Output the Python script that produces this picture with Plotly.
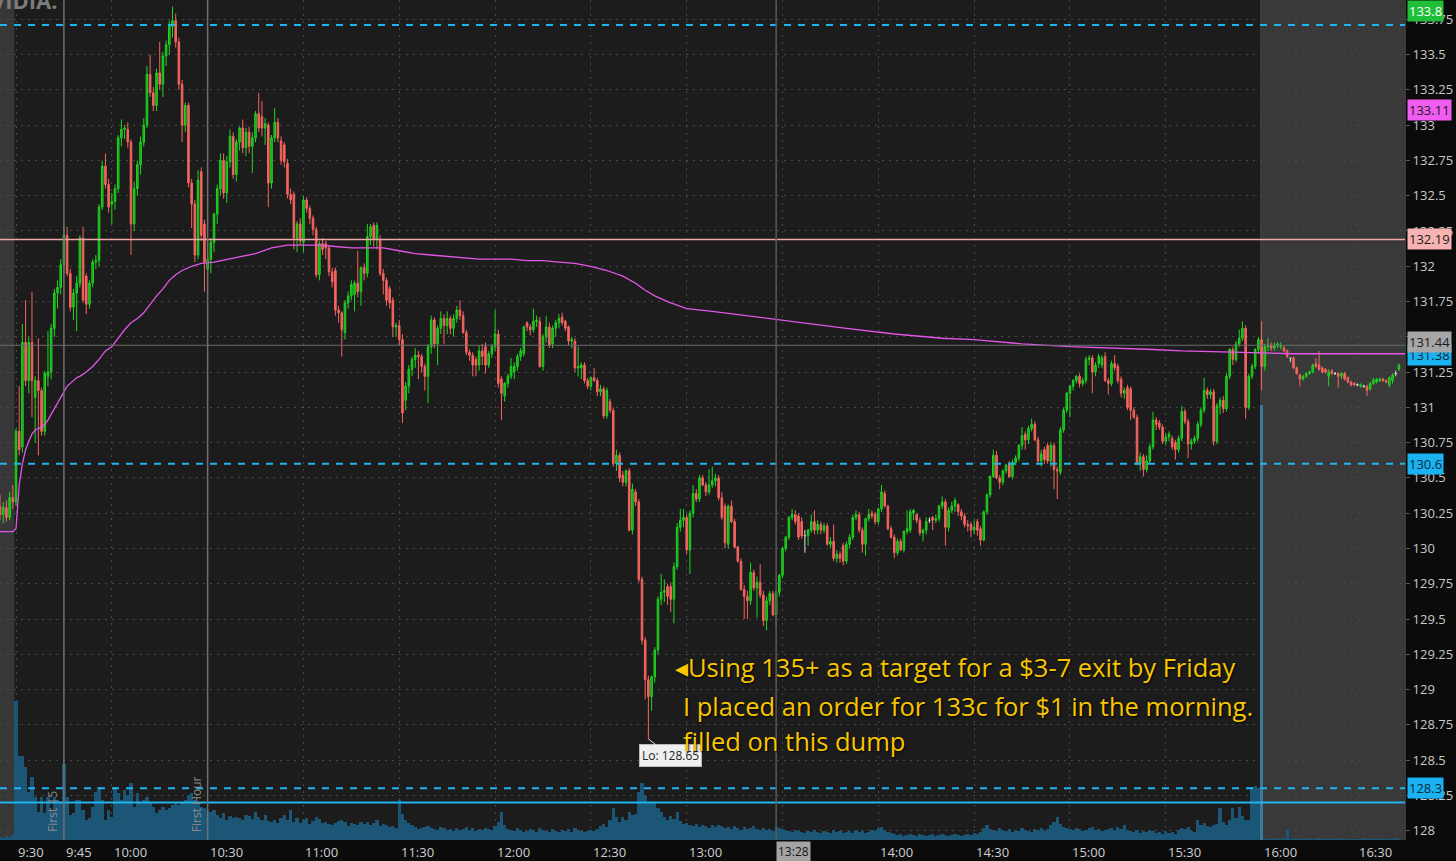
import plotly.graph_objects as go

# ---------------- data (1-minute bars, minute 0 = 9:30) ----------------
first_minute = -5  # 9:25 pre-market

opens = [
    130.30, 130.24, 130.29, 130.22, 130.36,
    130.33, 130.83, 130.72, 131.46, 131.19, 131.46, 131.07, 131.19, 131.12, 130.83,
    131.22, 131.25, 131.56, 131.81, 131.85, 132.01, 132.22, 131.95, 131.71, 131.81,
    131.88, 132.20, 131.93, 131.73, 131.88, 132.03, 132.04, 132.42, 132.71, 132.58,
    132.44, 132.46, 132.55, 132.91, 132.97, 132.97, 132.88, 132.30, 132.55, 132.72,
    132.88, 133.00, 133.36, 133.23, 133.14, 133.37, 133.29, 133.49, 133.57, 133.70,
    133.74, 133.59, 133.29, 133.00, 133.14, 132.59, 132.44, 132.08, 132.67, 132.30,
    131.98, 132.05, 132.17, 132.37, 132.55, 132.75, 132.52, 132.74, 132.92, 132.65,
    132.88, 132.98, 132.84, 132.95, 132.85, 132.91, 133.08, 133.06, 132.98, 133.00,
    132.59, 132.91, 133.02, 132.89, 132.86, 132.73, 132.51, 132.51, 132.20, 132.30,
    132.17, 132.47, 132.41, 132.34, 132.26, 131.94, 132.16, 132.16, 132.13, 131.96,
    131.97, 131.69, 131.67, 131.53, 131.74, 131.79, 131.80, 131.88, 131.82, 131.99,
    131.95, 132.21, 132.29, 132.19, 132.19, 131.95, 131.90, 131.84, 131.76, 131.57,
    131.58, 131.48, 131.05, 131.15, 131.27, 131.34, 131.37, 131.36, 131.29, 131.22,
    131.43, 131.62, 131.45, 131.56, 131.63, 131.58, 131.63, 131.56, 131.63, 131.69,
    131.65, 131.53, 131.39, 131.37, 131.34, 131.30, 131.40, 131.43, 131.30, 131.38,
    131.43, 131.52, 131.20, 131.08, 131.17, 131.22, 131.25, 131.29, 131.36, 131.38,
    131.60, 131.57, 131.55, 131.61, 131.61, 131.29, 131.50, 131.57, 131.45, 131.56,
    131.60, 131.64, 131.61, 131.57, 131.47, 131.47, 131.28, 131.28, 131.30, 131.19,
    131.15, 131.21, 131.19, 131.11, 131.13, 130.94, 131.04, 130.98, 130.60, 130.66,
    130.52, 130.47, 130.55, 130.13, 130.40, 130.33, 129.78, 129.35, 129.07, 128.95,
    129.09, 129.28, 129.64, 129.69, 129.73, 129.73, 129.64, 129.87, 130.15, 130.20,
    130.22, 129.99, 130.25, 130.39, 130.35, 130.50, 130.45, 130.40, 130.45, 130.48,
    130.50, 130.36, 130.30, 130.03, 130.30, 130.19, 130.01, 129.91, 129.71, 129.66,
    129.63, 129.83, 129.72, 129.76, 129.67, 129.49, 129.63, 129.68, 129.53, 129.69,
    129.81, 130.00, 130.08, 130.22, 130.24, 130.23, 130.19, 130.09, 130.09, 130.13,
    130.19, 130.13, 130.17, 130.13, 130.16, 130.03, 130.05, 129.93, 129.96, 130.02,
    129.91, 130.03, 130.08, 130.22, 130.24, 130.13, 130.03, 130.21, 130.25, 130.24,
    130.19, 130.28, 130.39, 130.30, 130.14, 130.08, 129.97, 130.05, 129.99, 130.12,
    130.13, 130.25, 130.24, 130.20, 130.11, 130.13, 130.20, 130.22, 130.20, 130.21,
    130.30, 130.33, 130.15, 130.27, 130.30, 130.31, 130.26, 130.23, 130.17, 130.17,
    130.13, 130.19, 130.14, 130.06, 130.26, 130.38, 130.51, 130.66, 130.50, 130.47,
    130.55, 130.60, 130.51, 130.61, 130.64, 130.73, 130.81, 130.77, 130.85, 130.88,
    130.77, 130.62, 130.70, 130.73, 130.62, 130.73, 130.56, 130.54, 130.84, 130.98,
    131.10, 131.15, 131.19, 131.22, 131.17, 131.19, 131.34, 131.35, 131.25, 131.31,
    131.30, 131.36, 131.19, 131.17, 131.31, 131.29, 131.20, 131.10, 131.14, 131.13,
    130.98, 130.93, 130.60, 130.65, 130.56, 130.62, 130.72, 130.91, 130.89, 130.86,
    130.76, 130.79, 130.78, 130.75, 130.70, 130.78, 130.97, 130.90, 130.74, 130.76,
    130.78, 130.88, 130.98, 131.12, 131.09, 131.11, 130.76, 131.01, 131.05, 130.99,
    131.22, 131.41, 131.34, 131.45, 131.49, 131.56, 131.00, 131.22, 131.29, 131.41,
    131.48, 131.29, 131.43, 131.44, 131.42, 131.44, 131.43, 131.42, 131.40, 131.35,
    131.35, 131.28, 131.23, 131.20, 131.22, 131.24, 131.25, 131.31, 131.30, 131.28,
    131.27, 131.22, 131.26, 131.24, 131.24, 131.22, 131.24, 131.21, 131.18, 131.17,
    131.16, 131.15, 131.15, 131.15, 131.13, 131.17, 131.18, 131.19, 131.20, 131.19,
    131.16, 131.19, 131.24, 131.27,
]

highs = [
    130.38, 130.33, 130.34, 130.40, 130.45,
    130.85, 131.15, 131.59, 131.76, 131.50, 131.82, 131.22, 131.49, 131.14, 131.26,
    131.54, 131.59, 131.84, 131.90, 132.05, 132.28, 132.28, 131.98, 131.84, 131.93,
    132.22, 132.28, 131.95, 131.90, 132.05, 132.08, 132.44, 132.75, 132.80, 132.62,
    132.52, 132.58, 132.93, 133.04, 133.00, 133.02, 132.90, 132.60, 132.75, 132.92,
    133.05, 133.42, 133.50, 133.27, 133.40, 133.59, 133.52, 133.60, 133.74, 133.84,
    133.79, 133.62, 133.32, 133.16, 133.16, 132.62, 132.47, 132.68, 132.70, 132.33,
    132.10, 132.20, 132.38, 132.58, 132.80, 132.80, 132.78, 132.97, 132.95, 132.90,
    132.99, 133.04, 132.98, 132.99, 132.95, 133.10, 133.23, 133.17, 133.05, 133.02,
    132.93, 133.12, 133.05, 132.92, 132.88, 132.76, 132.55, 132.53, 132.32, 132.34,
    132.50, 132.49, 132.43, 132.36, 132.28, 132.18, 132.20, 132.18, 132.15, 131.99,
    131.99, 131.72, 131.68, 131.76, 131.82, 131.90, 131.90, 132.11, 132.00, 132.02,
    132.30, 132.30, 132.31, 132.31, 132.22, 131.98, 131.92, 131.86, 131.78, 131.60,
    131.62, 131.52, 131.18, 131.30, 131.36, 131.42, 131.40, 131.38, 131.31, 131.45,
    131.65, 131.64, 131.58, 131.68, 131.66, 131.68, 131.65, 131.66, 131.72, 131.76,
    131.68, 131.55, 131.41, 131.39, 131.36, 131.44, 131.45, 131.46, 131.40, 131.45,
    131.69, 131.55, 131.22, 131.18, 131.24, 131.35, 131.32, 131.38, 131.42, 131.58,
    131.61, 131.59, 131.70, 131.65, 131.64, 131.52, 131.65, 131.60, 131.58, 131.62,
    131.66, 131.67, 131.62, 131.58, 131.50, 131.49, 131.43, 131.32, 131.32, 131.21,
    131.22, 131.28, 131.21, 131.16, 131.15, 131.14, 131.06, 131.00, 130.70, 130.68,
    130.55, 130.56, 130.57, 130.46, 130.42, 130.35, 129.80, 129.37, 129.10, 129.10,
    129.30, 129.66, 129.82, 129.78, 129.75, 129.76, 129.90, 130.18, 130.28, 130.28,
    130.24, 130.27, 130.45, 130.42, 130.52, 130.52, 130.47, 130.56, 130.58, 130.53,
    130.52, 130.40, 130.32, 130.31, 130.34, 130.21, 130.02, 129.93, 129.74, 129.70,
    129.90, 129.85, 129.80, 129.89, 129.70, 129.66, 129.70, 129.70, 129.71, 129.82,
    130.01, 130.09, 130.23, 130.28, 130.27, 130.25, 130.22, 130.13, 130.14, 130.24,
    130.27, 130.20, 130.19, 130.18, 130.18, 130.08, 130.17, 129.99, 129.98, 130.04,
    130.05, 130.10, 130.24, 130.27, 130.26, 130.15, 130.22, 130.28, 130.27, 130.26,
    130.29, 130.45, 130.41, 130.31, 130.16, 130.10, 130.07, 130.07, 130.13, 130.27,
    130.28, 130.28, 130.25, 130.22, 130.14, 130.22, 130.22, 130.23, 130.24, 130.31,
    130.37, 130.35, 130.29, 130.33, 130.36, 130.32, 130.28, 130.25, 130.20, 130.19,
    130.20, 130.21, 130.16, 130.27, 130.39, 130.52, 130.70, 130.69, 130.52, 130.56,
    130.60, 130.62, 130.63, 130.66, 130.74, 130.86, 130.83, 130.87, 130.92, 130.90,
    130.79, 130.70, 130.72, 130.75, 130.75, 130.75, 130.58, 130.86, 131.00, 131.11,
    131.16, 131.20, 131.23, 131.24, 131.21, 131.36, 131.37, 131.37, 131.32, 131.38,
    131.37, 131.39, 131.21, 131.33, 131.37, 131.31, 131.22, 131.14, 131.16, 131.15,
    131.00, 130.95, 130.68, 130.67, 130.66, 130.74, 130.97, 130.93, 130.91, 130.88,
    130.82, 130.83, 130.80, 130.77, 130.80, 131.01, 130.99, 130.92, 130.78, 130.80,
    130.90, 131.00, 131.21, 131.14, 131.13, 131.13, 131.03, 131.07, 131.08, 131.24,
    131.42, 131.43, 131.47, 131.55, 131.61, 131.58, 131.24, 131.31, 131.42, 131.50,
    131.61, 131.45, 131.49, 131.46, 131.46, 131.46, 131.46, 131.44, 131.41, 131.35,
    131.36, 131.29, 131.24, 131.23, 131.25, 131.26, 131.31, 131.35, 131.40, 131.29,
    131.28, 131.27, 131.27, 131.25, 131.25, 131.25, 131.25, 131.22, 131.19, 131.18,
    131.17, 131.17, 131.16, 131.16, 131.18, 131.21, 131.21, 131.21, 131.21, 131.20,
    131.22, 131.24, 131.26, 131.31,
]

lows = [
    130.20, 130.18, 130.19, 130.20, 130.28,
    130.30, 130.66, 130.68, 131.15, 131.10, 130.93, 130.75, 130.66, 130.80, 130.80,
    131.15, 131.20, 131.50, 131.70, 131.80, 131.95, 131.93, 131.68, 131.62, 131.54,
    131.85, 131.74, 131.66, 131.70, 131.85, 131.98, 132.00, 132.40, 132.55, 132.38,
    132.30, 132.40, 132.52, 132.85, 132.90, 132.84, 132.08, 132.25, 132.50, 132.65,
    132.85, 132.98, 133.20, 133.10, 133.10, 133.25, 133.20, 133.42, 133.50, 133.62,
    133.55, 133.25, 132.88, 132.95, 132.56, 132.27, 132.03, 132.05, 132.18, 131.82,
    131.88, 131.95, 132.10, 132.30, 132.50, 132.48, 132.45, 132.70, 132.62, 132.60,
    132.82, 132.80, 132.78, 132.80, 132.66, 132.88, 132.95, 132.92, 132.86, 132.42,
    132.55, 132.88, 132.88, 132.72, 132.70, 132.48, 132.44, 132.12, 132.10, 132.15,
    132.10, 132.38, 132.30, 132.22, 131.92, 131.90, 132.08, 132.05, 131.93, 131.85,
    131.65, 131.60, 131.36, 131.48, 131.70, 131.76, 131.68, 131.78, 131.72, 131.90,
    131.92, 132.15, 132.14, 132.12, 131.93, 131.80, 131.72, 131.70, 131.50, 131.50,
    131.44, 130.89, 130.98, 131.10, 131.22, 131.28, 131.20, 131.25, 131.12, 131.03,
    131.38, 131.42, 131.30, 131.52, 131.45, 131.52, 131.52, 131.50, 131.60, 131.62,
    131.52, 131.37, 131.33, 131.22, 131.22, 131.26, 131.30, 131.24, 131.28, 131.35,
    131.40, 131.14, 130.91, 131.04, 131.14, 131.20, 131.20, 131.26, 131.33, 131.36,
    131.54, 131.51, 131.53, 131.57, 131.28, 131.26, 131.46, 131.42, 131.42, 131.50,
    131.56, 131.58, 131.54, 131.44, 131.42, 131.25, 131.22, 131.20, 131.17, 131.13,
    131.12, 131.18, 131.08, 131.08, 130.92, 130.92, 130.96, 130.58, 130.55, 130.47,
    130.44, 130.44, 130.12, 130.10, 130.30, 129.76, 129.32, 128.93, 128.65, 128.85,
    129.05, 129.25, 129.60, 129.62, 129.60, 129.55, 129.47, 129.85, 130.12, 130.15,
    129.96, 129.82, 130.22, 130.33, 130.33, 130.44, 130.37, 130.38, 130.43, 130.44,
    130.34, 130.20, 130.00, 130.00, 130.18, 130.00, 129.90, 129.70, 129.50, 129.50,
    129.60, 129.70, 129.51, 129.65, 129.45, 129.42, 129.60, 129.52, 129.45, 129.66,
    129.79, 129.98, 130.06, 130.20, 130.17, 130.06, 130.07, 129.97, 130.02, 130.11,
    130.10, 130.10, 130.10, 130.11, 130.02, 130.00, 129.91, 129.90, 129.90, 129.88,
    129.89, 130.00, 130.06, 130.20, 130.11, 129.97, 129.95, 130.19, 130.21, 130.17,
    130.17, 130.26, 130.29, 130.13, 130.07, 129.93, 129.95, 129.98, 129.97, 130.10,
    130.11, 130.20, 130.18, 130.09, 130.05, 130.10, 130.18, 130.13, 130.18, 130.19,
    130.28, 130.02, 130.12, 130.25, 130.26, 130.23, 130.20, 130.15, 130.12, 130.08,
    130.10, 130.09, 130.02, 130.05, 130.24, 130.36, 130.50, 130.49, 130.42, 130.45,
    130.53, 130.50, 130.49, 130.59, 130.62, 130.70, 130.70, 130.74, 130.83, 130.76,
    130.60, 130.58, 130.60, 130.60, 130.58, 130.42, 130.35, 130.52, 130.82, 130.96,
    130.93, 131.12, 131.17, 131.14, 131.15, 131.17, 131.30, 131.10, 131.22, 131.28,
    131.28, 131.18, 131.09, 131.15, 131.26, 131.17, 131.07, 131.06, 130.98, 130.91,
    130.92, 130.59, 130.55, 130.51, 130.54, 130.60, 130.70, 130.84, 130.84, 130.74,
    130.73, 130.76, 130.70, 130.63, 130.68, 130.76, 130.88, 130.64, 130.70, 130.74,
    130.76, 130.86, 130.96, 131.06, 131.06, 130.73, 130.74, 130.95, 130.96, 130.97,
    131.20, 131.30, 131.32, 131.43, 131.47, 130.92, 130.98, 131.20, 131.27, 131.38,
    131.12, 131.26, 131.40, 131.40, 131.40, 131.42, 131.41, 131.39, 131.35, 131.32,
    131.27, 131.23, 131.15, 131.19, 131.21, 131.23, 131.24, 131.28, 131.26, 131.24,
    131.24, 131.15, 131.23, 131.23, 131.14, 131.20, 131.19, 131.17, 131.15, 131.15,
    131.15, 131.14, 131.14, 131.08, 131.12, 131.16, 131.17, 131.18, 131.18, 131.17,
    131.14, 131.17, 131.22, 131.26,
]

closes = [
    130.24, 130.29, 130.22, 130.36, 130.33,
    130.83, 130.70, 131.46, 131.19, 131.46, 131.19, 131.19, 131.12, 130.83, 131.24,
    131.25, 131.56, 131.81, 131.85, 132.01, 132.22, 131.95, 131.71, 131.81, 131.88,
    132.20, 131.76, 131.73, 131.88, 132.03, 132.04, 132.42, 132.71, 132.58, 132.42,
    132.46, 132.55, 132.91, 132.97, 132.98, 132.88, 132.30, 132.55, 132.72, 132.88,
    133.00, 133.36, 133.23, 133.14, 133.37, 133.29, 133.49, 133.57, 133.70, 133.74,
    133.59, 133.29, 133.00, 133.14, 132.59, 132.44, 132.08, 132.61, 132.22, 132.03,
    132.05, 132.17, 132.37, 132.55, 132.75, 132.52, 132.74, 132.92, 132.65, 132.88,
    132.98, 132.84, 132.95, 132.85, 132.91, 133.08, 132.98, 132.98, 133.01, 132.59,
    132.91, 133.02, 132.91, 132.75, 132.74, 132.51, 132.47, 132.20, 132.30, 132.18,
    132.47, 132.41, 132.34, 132.26, 131.94, 132.16, 132.12, 132.13, 131.96, 131.89,
    131.69, 131.67, 131.55, 131.74, 131.79, 131.87, 131.88, 131.82, 131.99, 131.95,
    132.21, 132.28, 132.19, 132.29, 131.95, 131.90, 131.76, 131.74, 131.57, 131.58,
    131.48, 130.96, 131.15, 131.27, 131.34, 131.37, 131.36, 131.29, 131.22, 131.43,
    131.62, 131.45, 131.56, 131.63, 131.58, 131.63, 131.56, 131.63, 131.69, 131.65,
    131.53, 131.39, 131.37, 131.30, 131.30, 131.40, 131.36, 131.30, 131.38, 131.43,
    131.52, 131.17, 131.10, 131.17, 131.22, 131.29, 131.29, 131.36, 131.40, 131.57,
    131.57, 131.55, 131.61, 131.62, 131.29, 131.50, 131.57, 131.44, 131.56, 131.60,
    131.63, 131.60, 131.56, 131.47, 131.48, 131.28, 131.29, 131.30, 131.19, 131.15,
    131.21, 131.19, 131.11, 131.13, 130.94, 131.12, 130.98, 130.60, 130.66, 130.50,
    130.47, 130.55, 130.13, 130.42, 130.33, 129.78, 129.35, 129.07, 128.95, 129.09,
    129.28, 129.64, 129.69, 129.70, 129.66, 129.64, 129.87, 130.15, 130.20, 130.22,
    129.99, 130.25, 130.39, 130.35, 130.50, 130.45, 130.40, 130.45, 130.48, 130.50,
    130.36, 130.22, 130.04, 130.30, 130.19, 130.01, 129.91, 129.71, 129.66, 129.63,
    129.83, 129.72, 129.76, 129.67, 129.49, 129.63, 129.68, 129.53, 129.69, 129.81,
    130.00, 130.08, 130.22, 130.24, 130.19, 130.08, 130.09, 130.09, 130.13, 130.19,
    130.13, 130.17, 130.13, 130.16, 130.03, 130.05, 129.93, 129.96, 129.93, 129.91,
    130.03, 130.08, 130.22, 130.24, 130.13, 130.03, 130.21, 130.24, 130.23, 130.19,
    130.28, 130.40, 130.30, 130.14, 130.08, 129.97, 130.05, 129.99, 130.12, 130.14,
    130.26, 130.27, 130.20, 130.11, 130.13, 130.19, 130.20, 130.20, 130.21, 130.30,
    130.33, 130.15, 130.27, 130.30, 130.34, 130.26, 130.23, 130.17, 130.16, 130.13,
    130.15, 130.13, 130.06, 130.26, 130.38, 130.51, 130.66, 130.50, 130.47, 130.55,
    130.59, 130.51, 130.61, 130.64, 130.73, 130.80, 130.77, 130.85, 130.88, 130.77,
    130.62, 130.67, 130.63, 130.62, 130.73, 130.56, 130.55, 130.84, 130.98, 131.10,
    131.15, 131.19, 131.22, 131.17, 131.19, 131.34, 131.35, 131.25, 131.30, 131.36,
    131.35, 131.19, 131.17, 131.31, 131.28, 131.19, 131.10, 131.12, 131.00, 130.98,
    130.93, 130.60, 130.65, 130.56, 130.62, 130.72, 130.91, 130.88, 130.86, 130.76,
    130.79, 130.81, 130.72, 130.70, 130.78, 130.97, 130.90, 130.74, 130.76, 130.78,
    130.88, 130.98, 131.12, 131.09, 131.11, 130.76, 131.01, 131.05, 130.99, 131.22,
    131.41, 131.34, 131.45, 131.49, 131.56, 131.00, 131.22, 131.29, 131.41, 131.48,
    131.29, 131.43, 131.44, 131.42, 131.44, 131.45, 131.44, 131.40, 131.36, 131.35,
    131.28, 131.24, 131.20, 131.22, 131.24, 131.25, 131.30, 131.29, 131.27, 131.25,
    131.25, 131.25, 131.24, 131.24, 131.22, 131.24, 131.20, 131.18, 131.16, 131.16,
    131.16, 131.16, 131.15, 131.12, 131.17, 131.19, 131.20, 131.20, 131.19, 131.18,
    131.21, 131.23, 131.24, 131.30,
]

# volume per bar, thousands of shares
volumes = [
    30, 20, 40, 30, 50,
    1390, 840, 840, 730, 480, 630, 430, 280, 430, 270,
    430, 300, 430, 400, 380, 760, 430, 250, 270, 400,
    400, 300, 200, 220, 330, 480, 530, 400, 200, 300,
    230, 530, 470, 400, 500, 450, 570, 330, 470, 380,
    400, 430, 380, 330, 270, 300, 330, 300, 320, 350,
    380, 350, 380, 400, 450, 470, 400, 370, 330, 320,
    300, 280, 300, 250, 220, 270, 200, 240, 220, 230,
    220, 200, 250, 240, 210, 280, 230, 200, 250, 190,
    180, 200, 170, 220, 250, 200, 300, 180, 220, 170,
    200, 220, 160, 190, 230, 210, 170, 180, 160, 150,
    170, 190, 200, 180, 140, 170, 160, 150, 180, 160,
    180, 150, 170, 200, 140, 160, 150, 130, 140, 120,
    400, 260, 200, 170, 150, 130, 110, 120, 130, 140,
    120, 110, 100, 130, 120, 100, 110, 90, 120, 100,
    110, 130, 100, 120, 90, 110, 100, 120, 110, 100,
    140, 180, 280, 150, 110, 100, 90, 120, 100, 80,
    90, 110, 100, 80, 120, 100, 90, 80, 110, 90,
    80, 100, 90, 110, 80, 120, 100, 90, 80, 90,
    100, 90, 110, 140, 160, 130, 200, 320, 230, 180,
    230, 200, 280, 250, 260, 480, 570, 440, 380, 370,
    370, 320, 280, 230, 200, 240, 210, 280, 190, 160,
    170, 150, 140, 160, 130, 150, 140, 120, 150, 130,
    150, 140, 120, 130, 110, 140, 120, 100, 130, 110,
    120, 140, 110, 100, 120, 100, 110, 90, 130, 120,
    110, 100, 90, 80, 100, 90, 80, 70, 90, 80,
    100, 80, 70, 90, 80, 70, 100, 80, 90, 70,
    80, 90, 70, 100, 80, 90, 70, 80, 100, 90,
    120, 130, 100, 80, 70, 60, 50, 60, 40, 50,
    60, 50, 40, 60, 50, 40, 50, 60, 40, 50,
    60, 50, 40, 50, 60, 50, 40, 50, 60, 50,
    70, 60, 80, 120, 150, 110, 100, 90, 120, 100,
    90, 110, 80, 100, 90, 120, 100, 90, 80, 110,
    100, 120, 90, 110, 150, 180, 230, 160, 130, 120,
    110, 100, 120, 110, 90, 100, 120, 130, 100, 110,
    90, 100, 110, 120, 100, 130, 110, 150, 100, 90,
    80, 100, 70, 90, 80, 100, 90, 70, 80, 60,
    90, 70, 80, 60, 100, 120, 110, 130, 90, 80,
    200, 150, 170, 140, 130, 150, 160, 320, 180, 150,
    200, 320, 220, 330, 240, 200, 200, 530, 540, 520,
    4350, 20, 10, 10, 20, 10, 10, 20, 100, 10,
    10, 20, 10, 10, 20, 10, 10, 10, 20, 10,
    10, 20, 10, 10, 10, 20, 10, 10, 10, 10,
    10, 10, 20, 10, 10, 10, 20, 10, 10, 10,
    10, 10, 20, 10,
]

vwap_minutes = [-5, -1, 0, 1, 2, 3, 4, 5, 6, 7, 8, 9, 10, 11, 12, 13, 14, 15, 16, 17, 18, 19, 20,
                22, 24, 26, 28, 30, 32, 34, 36, 38, 40, 42, 44, 46, 48, 50, 52,
                55, 58, 62, 66, 70, 75, 80, 85, 90, 95, 100, 105, 110, 115, 120, 125, 130, 135,
                140, 145, 150, 155, 160, 165, 170, 175, 180, 185, 190,
                194, 197, 200, 204, 210, 218, 225, 235, 245, 260, 275, 290, 300, 315, 330,
                345, 356, 365, 380, 400, 435]
vwap_values = [130.12, 130.12, 130.14, 130.45, 130.60, 130.70, 130.76, 130.81, 130.84, 130.85, 130.86,
               130.88, 130.91, 130.95, 130.99, 131.04, 131.08, 131.12, 131.15, 131.17, 131.19, 131.21, 131.22,
               131.25, 131.29, 131.34, 131.40, 131.43, 131.49, 131.55, 131.60, 131.63, 131.67, 131.73,
               131.79, 131.84, 131.90, 131.94, 131.97,
               132.00, 132.02, 132.03, 132.05, 132.07, 132.09, 132.13, 132.15, 132.15, 132.15, 132.14,
               132.13, 132.13, 132.13, 132.11, 132.09, 132.08, 132.07, 132.06, 132.05, 132.05, 132.05,
               132.04, 132.04, 132.03, 132.02, 132.00, 131.97, 131.93,
               131.88, 131.83, 131.79, 131.75, 131.70, 131.68, 131.66, 131.63, 131.60, 131.56, 131.52,
               131.49, 131.48, 131.45, 131.43, 131.42, 131.41, 131.40, 131.39, 131.38, 131.38]

tick_minutes = [0, 15, 30, 60, 90, 120, 150, 180, 210, 270, 300, 330, 360, 390, 420]
tick_labels = ["9:30", "9:45", "10:00", "10:30", "11:00", "11:30", "12:00", "12:30", "13:00",
               "14:00", "14:30", "15:00", "15:30", "16:00", "16:30"]
grid_minutes = [0, 30, 60, 90, 120, 150, 180, 210, 240, 270, 300, 330, 360, 390, 420]
cursor_minute, cursor_label = 238, "13:28"
cursor_price = 131.44

dashed_levels = [133.71, 130.60, 128.30]
solid_level = 128.20
pivot_level = 132.19

price_labels = [  # text, price, box colour, text colour
    ("133.8", 133.81, "#1fbf3a", "#ffffff"),
    ("133.11", 133.11, "#f05cf0", "#1a1a1a"),
    ("132.19", 132.19, "#f7b2b2", "#1a1a1a"),
    ("131.38", 131.37, "#1ab2f0", "#0a2a3a"),
    ("131.44", 131.46, "#a6a6a6", "#1a1a1a"),
    ("130.6", 130.60, "#1ab2f0", "#0a2a3a"),
    ("128.3", 128.30, "#1ab2f0", "#0a2a3a"),
]

note_lines = ["\u25c2Using 135+ as a target for a $3-7 exit by Friday",
              "I placed an order for 133c for $1 in the morning.",
              "filled on this dump"]

assert len(opens) == len(highs) == len(lows) == len(closes) == len(volumes), (
    len(opens), len(highs), len(lows), len(closes), len(volumes))

# ---------------- figure ----------------
n = len(closes)
minutes = list(range(first_minute, first_minute + n))
X_RANGE = [-5.01, 434.9]
Y_RANGE = [127.934, 133.887]
CYAN = "#22b4ee"

fig = go.Figure()

# volume histogram (base y axis)
vol_colors = ["#3b7a9b" if m == 390 else "#1b5677" for m in minutes]
fig.add_trace(go.Bar(x=minutes, y=volumes, marker=dict(color=vol_colors, line=dict(width=0)),
                     width=1.0, yaxis="y", hoverinfo="skip"))

# candles (non-doji)
idx = [i for i in range(n) if opens[i] != closes[i]]
fig.add_trace(go.Candlestick(
    x=[minutes[i] for i in idx], open=[opens[i] for i in idx], high=[highs[i] for i in idx],
    low=[lows[i] for i in idx], close=[closes[i] for i in idx], yaxis="y2",
    increasing=dict(line=dict(color="#22d422", width=1), fillcolor="#12a412"),
    decreasing=dict(line=dict(color="#f4645f", width=1), fillcolor="#f4645f"),
    whiskerwidth=0, hoverinfo="skip"))

# doji bars drawn as white crosses
dx, dy = [], []
for i in range(n):
    if opens[i] == closes[i]:
        m = minutes[i]
        dx += [m, m, None, m - 0.35, m + 0.35, None]
        dy += [lows[i], highs[i], None, opens[i], opens[i], None]
fig.add_trace(go.Scatter(x=dx, y=dy, mode="lines", line=dict(color="#e0e0e0", width=1),
                         yaxis="y2", hoverinfo="skip"))

# VWAP
fig.add_trace(go.Scatter(x=vwap_minutes, y=vwap_values, mode="lines",
                         line=dict(color="#e356e8", width=1.3), yaxis="y2", hoverinfo="skip"))

shapes = [
    dict(type="rect", xref="x", yref="paper", x0=X_RANGE[0] - 1, x1=-0.5, y0=0, y1=1,
         fillcolor="#373737", line=dict(width=0), layer="below"),
    dict(type="rect", xref="x", yref="paper", x0=389.5, x1=X_RANGE[1] + 1, y0=0, y1=1,
         fillcolor="#393939", line=dict(width=0), layer="below"),
]
for lv in dashed_levels:
    shapes.append(dict(type="line", xref="paper", yref="y2", x0=0, x1=1, y0=lv, y1=lv,
                       line=dict(color=CYAN, width=2, dash="7px,7px")))
shapes.append(dict(type="line", xref="paper", yref="y2", x0=0, x1=1, y0=solid_level, y1=solid_level,
                   line=dict(color=CYAN, width=2)))
shapes.append(dict(type="line", xref="paper", yref="y2", x0=0, x1=1, y0=pivot_level, y1=pivot_level,
                   line=dict(color="#f0a9a9", width=1.6)))
shapes.append(dict(type="line", xref="paper", yref="y2", x0=0, x1=1, y0=cursor_price, y1=cursor_price,
                   line=dict(color="#6c6c6c", width=1)))
for m in (15, 60):
    shapes.append(dict(type="line", xref="x", yref="paper", x0=m, x1=m, y0=0, y1=1,
                       line=dict(color="#707070", width=1.5)))
shapes.append(dict(type="line", xref="x", yref="paper", x0=cursor_minute, x1=cursor_minute, y0=0, y1=1,
                   line=dict(color="#5a5a5a", width=1.5)))

annotations = []
for m, lab in zip(tick_minutes, tick_labels):
    annotations.append(dict(x=m, y=0, xref="x", yref="paper", text=lab, showarrow=False,
                            xanchor="left", yanchor="top", yshift=-1, xshift=0,
                            font=dict(family="Open Sans", size=13, color="#cfcfcf")))
annotations.append(dict(x=cursor_minute, y=0, xref="x", yref="paper", text=cursor_label, showarrow=False,
                        xanchor="left", yanchor="top", yshift=-1, bgcolor="#a4a4a4", borderpad=1,
                        font=dict(family="Open Sans", size=12, color="#151515")))
for text, price, bg, fg in price_labels:
    annotations.append(dict(x=1, y=price, xref="paper", yref="y2", text=text, showarrow=False,
                            xanchor="left", yanchor="middle", xshift=2, bgcolor=bg, borderpad=1,
                            font=dict(family="Open Sans", size=13, color=fg)))
annotations.append(dict(x=15, y=0, xref="x", yref="paper", text="First 15", textangle=-90,
                        showarrow=False, xanchor="right", yanchor="bottom", yshift=6, xshift=-1,
                        font=dict(family="Open Sans", size=12, color="#8a8a8a")))
annotations.append(dict(x=60, y=0, xref="x", yref="paper", text="First Hour", textangle=-90,
                        showarrow=False, xanchor="right", yanchor="bottom", yshift=6, xshift=-1,
                        font=dict(family="Open Sans", size=12, color="#8a8a8a")))
lo_i = min(range(n), key=lambda i: lows[i])
annotations.append(dict(x=minutes[lo_i], y=lows[lo_i], xref="x", yref="y2",
                        text="Lo: %.2f" % lows[lo_i], showarrow=True, arrowhead=0, arrowwidth=1,
                        arrowcolor="#dcdcdc", ax=22, ay=17, bgcolor="#efefef", bordercolor="#bbbbbb",
                        borderpad=2, font=dict(family="Open Sans", size=12, color="#222222")))
note_pos = [(673, 667), (681, 706), (681, 741)]
for line, (px, py) in zip(note_lines, note_pos):
    annotations.append(dict(x=px / 1405, y=1 - py / 840, xref="paper", yref="paper", text=line,
                            showarrow=False, xanchor="left", yanchor="middle",
                            font=dict(family="Open Sans", size=25.5, color="#f7c600",
                                      shadow="1px 1px 2px #000000")))
annotations.append(dict(x=60 / 1405, y=1, xref="paper", yref="paper", text="<b>NVIDIA.</b>",
                        showarrow=False, xanchor="right", yanchor="middle",
                        font=dict(family="Open Sans", size=22, color="#7c7c7c")))

price_ticks = [128 + 0.25 * k for k in range(24)]
price_tick_text = [("%.2f" % v).rstrip("0").rstrip(".") for v in price_ticks]

fig.update_layout(
    width=1456, height=861,
    margin=dict(l=0, r=51, t=0, b=21),
    paper_bgcolor="#0b0b0b", plot_bgcolor="#1c1c1c",
    showlegend=False, bargap=0,
    xaxis=dict(range=X_RANGE, tickvals=grid_minutes, showticklabels=False, showgrid=True,
               gridcolor="#474747", griddash="2px,5px", gridwidth=1, zeroline=False,
               rangeslider=dict(visible=False), showline=False, ticks=""),
    yaxis=dict(range=[0, 8400], visible=False, showgrid=False, zeroline=False),
    yaxis2=dict(overlaying="y", side="right", range=Y_RANGE, tickvals=price_ticks,
                ticktext=price_tick_text, showgrid=True, gridcolor="#474747", griddash="2px,5px",
                gridwidth=1, zeroline=False, ticks="outside", ticklen=4, tickcolor="#555555",
                showline=True, linecolor="#3a3a3a",
                tickfont=dict(family="Open Sans", size=13, color="#c8c8c8")),
    shapes=shapes, annotations=annotations,
)

fig.write_html("out.html", config={"displayModeBar": False, "staticPlot": True},
               post_script="document.body.style.margin='0px';"
                           "document.body.style.background='#0b0b0b';")
